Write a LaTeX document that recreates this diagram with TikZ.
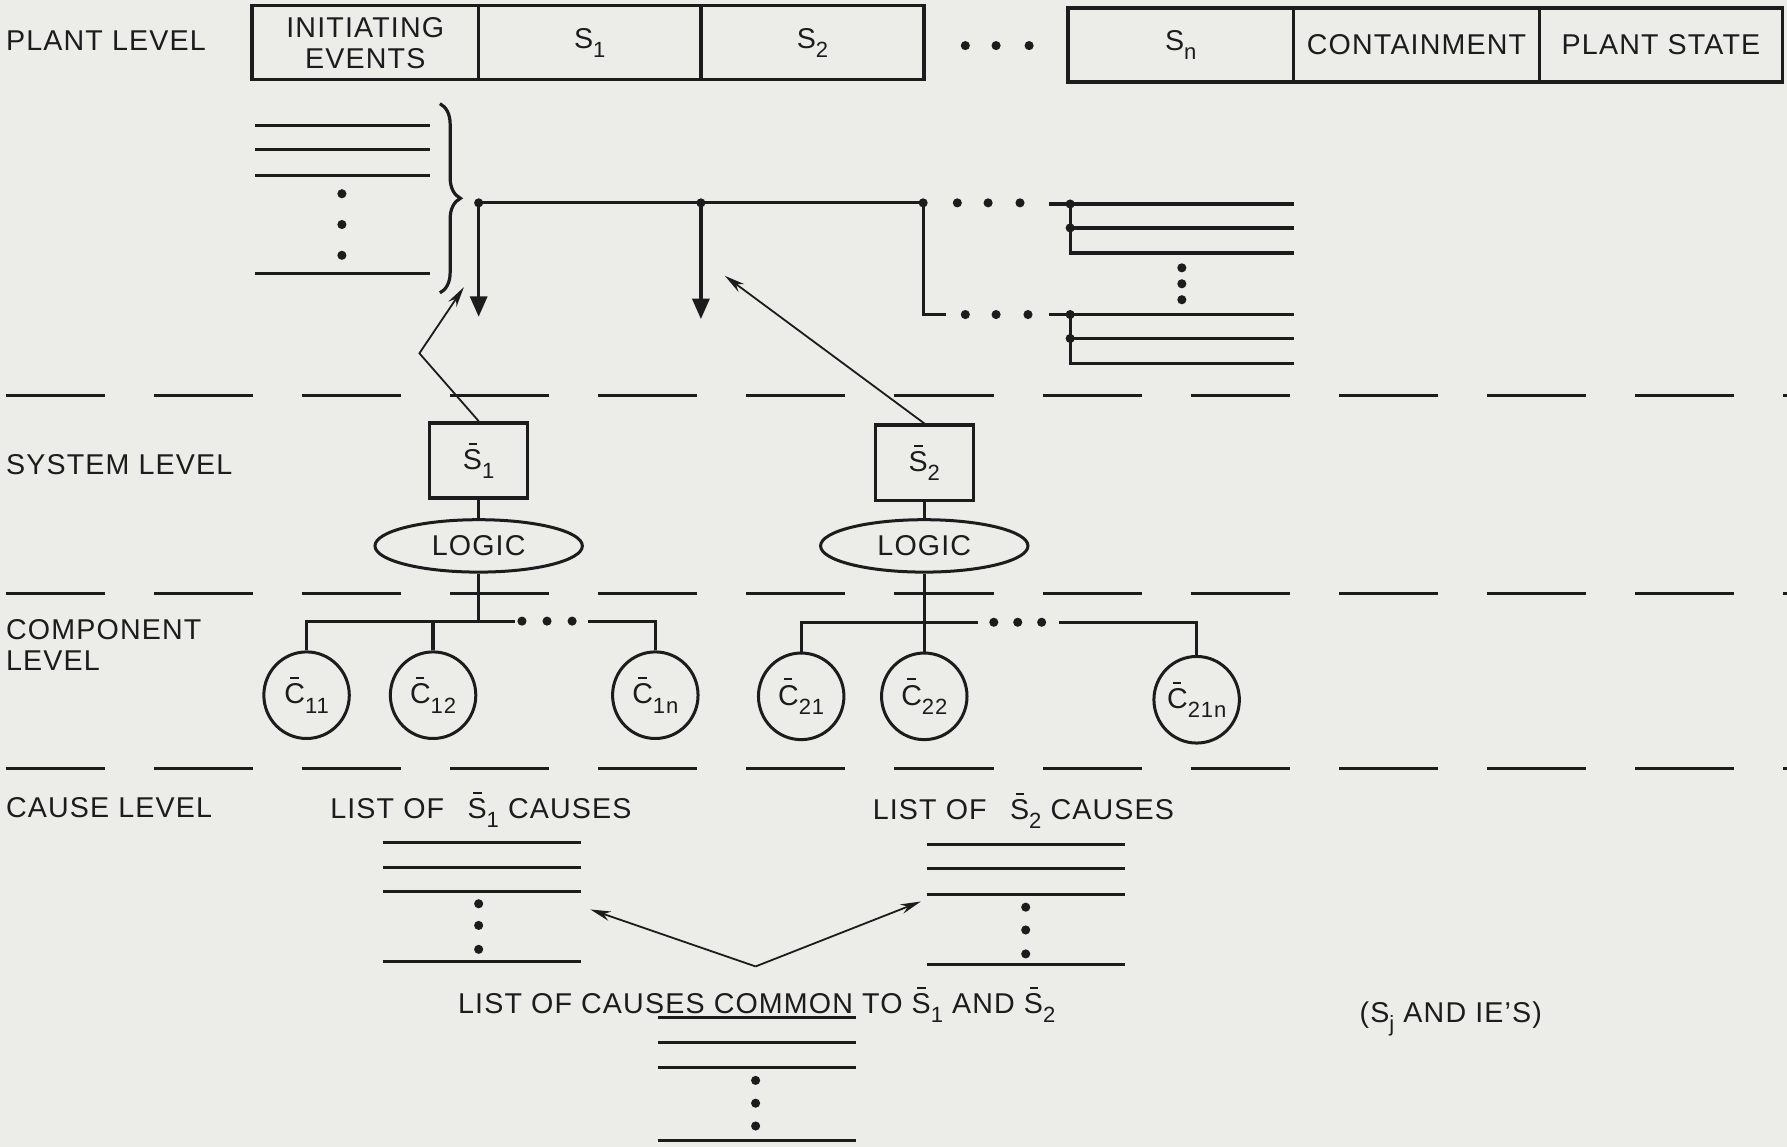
\documentclass[tikz,border=0pt]{standalone}
\usepackage{fontspec}
\setmainfont{Liberation Sans}[LetterSpace=4]
\usetikzlibrary{arrows.meta, decorations.pathreplacing, positioning, shapes.geometric}

\definecolor{paper}{RGB}{236,236,233}
\definecolor{ink}{RGB}{28,28,28}

% lowered index and short bar over a letter
\newcommand{\lowidx}[1]{\raisebox{-0.32em}{\fontsize{11}{11}\selectfont #1}}
\newcommand{\topbar}[1]{\leavevmode\rlap{\hspace{0.2em}\rule[0.86em]{0.3em}{0.07em}}#1}
\newcommand{\barS}[1]{\topbar{S}\lowidx{#1}}
\newcommand{\barC}[1]{\topbar{C}\lowidx{#1}}

\begin{document}
\begin{tikzpicture}[
    x=0.02cm, y=-0.02cm, % one unit = one pixel of the sheet
    every node/.style={font=\fontsize{14.3}{15.5}\selectfont, text=ink},
    cell/.style={draw=ink, line width=1.7pt, minimum height=1.3cm, inner sep=0pt, outer sep=0pt, align=center},
    sys_box/.style={draw=ink, line width=1.7pt, minimum width=1.72cm, minimum height=1.32cm, inner sep=0pt},
    logic_oval/.style={ellipse, draw=ink, line width=1.5pt, minimum width=3.64cm, minimum height=0.92cm, inner sep=0pt},
    comp_oval/.style={ellipse, draw=ink, line width=1.5pt, minimum width=1.5cm, minimum height=1.52cm, inner sep=0pt},
    level_label/.style={anchor=west, align=left, inner sep=0pt},
    tree_line/.style={ink, line width=1.6pt},
    list_line/.style={ink, line width=1.4pt},
    sep_line/.style={ink, line width=1.4pt, dash pattern=on 1.74cm off 0.86cm},
    drop_arrow/.style={ink, line width=1.6pt, -{Triangle[length=0.36cm, width=0.3cm]}},
    thin_arrow/.style={ink, line width=0.9pt, -{Stealth[length=0.36cm, width=0.17cm]}}
]

% Define dot radius
\def\dotr{0.08cm}

% Sheet
\fill[paper] (0,0) rectangle (1568,1006);
\useasboundingbox (0,0) rectangle (1568,1006);

% Plant level row
\node[level_label] (plantlab) at (5,36) {PLANT LEVEL};
\node[cell, minimum width=3.98cm] (ie) at (320.5,37.5) {INITIATING\\EVENTS};
\node[cell, minimum width=3.9cm, right=0pt of ie] (s1) {S\lowidx{1}};
\node[cell, minimum width=3.92cm, right=0pt of s1] (s2) {S\lowidx{2}};
\node[cell, minimum width=3.96cm] (sn) at (1036,39.5) {S\lowidx{n}};
\node[cell, minimum width=4.32cm, right=0pt of sn] (cont) {CONTAINMENT};
\node[cell, minimum width=4.26cm, right=0pt of cont] (pstate) {PLANT STATE};
\foreach \x in {847,874,903} \fill[ink] (\x,40) circle (\dotr);

% Initiating event list and brace
\foreach \y in {110,131,154,240} \draw[list_line] (224,\y) -- (377,\y);
\foreach \y in {170,197,224} \fill[ink] (300,\y) circle (\dotr);
\draw[tree_line, decorate, decoration={brace, amplitude=0.36cm}] (386,91) -- (386,257);

% Event tree
\coordinate (t1) at (420,178);
\coordinate (t2) at (615,178);
\coordinate (t3) at (810,178);
\coordinate (t4) at (810,276);
\draw[tree_line] (t1) -- (t2) -- (t3) -- (t4) -- ++(20,0);
\draw[drop_arrow] (t1) -- ++(0,100);
\draw[drop_arrow] (t2) -- ++(0,102);
\foreach \p in {t1,t2,t3} \fill[ink] (\p) circle (\dotr);
\foreach \x in {840,867,895} \fill[ink] (\x,178) circle (\dotr);
\foreach \x in {847,874,902} \fill[ink] (\x,276) circle (\dotr);
\foreach \y in {179,276} {
    \draw[tree_line] (920,\y) -- (1135,\y);
    \draw[tree_line] (939,\y+21) -- (1135,\y+21);
    \draw[tree_line] (939,\y) |- (1135,\y+43);
    \fill[ink] (939,\y) circle (\dotr) (939,\y+21) circle (\dotr);
}
\foreach \y in {235,249,263} \fill[ink] (1037,\y) circle (\dotr);

% Level separators
\foreach \y in {347,521,674} \draw[sep_line] (5,\y) -- (1568,\y);

% System level
\node[level_label] (syslab) at (5,408) {SYSTEM LEVEL};
\node[sys_box] (sys1) at (420,404) {\barS{1}};
\node[sys_box] (sys2) at (811,406) {\barS{2}};
\node[logic_oval] (logic1) at (420,479) {LOGIC};
\node[logic_oval] (logic2) at (811,479) {LOGIC};
\draw[tree_line] (sys1) -- (logic1);
\draw[tree_line] (sys2) -- (logic2);
\coordinate (k1) at (368,310);
\coordinate (a1) at (407,252);
\coordinate (a2) at (636,242);
\draw[thin_arrow] (sys1.north) -- (k1) -- (a1);
\draw[thin_arrow] (sys2.north) -- (a2);

% Component level
\node[level_label] (complab) at (5,566) {COMPONENT\\LEVEL};
\node[comp_oval] (c11) at (269,610) {\barC{11}};
\node[comp_oval] (c12) at (380,610) {\barC{12}};
\node[comp_oval] (c1n) at (575,610) {\barC{1n}};
\node[comp_oval] (c21) at (703,611) {\barC{21}};
\node[comp_oval] (c22) at (811,611) {\barC{22}};
\node[comp_oval] (c21n) at (1050,614) {\barC{21n}};
\coordinate (j1) at (420,545);
\coordinate (j2) at (811,546);
\coordinate (e1) at (516,545);
\coordinate (e2) at (929,546);
\draw[tree_line] (logic1) -- (j1);
\draw[tree_line] (c11) |- (j1) -- ++(32,0);
\draw[tree_line] (c12) -- (c12 |- j1);
\draw[tree_line] (c1n) |- (e1);
\draw[tree_line] (logic2) -- (c22);
\draw[tree_line] (c21) |- (j2) -- ++(47,0);
\draw[tree_line] (c21n) |- (e2);
\foreach \x in {458,480,502} \fill[ink] (\x,545) circle (\dotr);
\foreach \x in {872,893,914} \fill[ink] (\x,546) circle (\dotr);

% Cause level
\node[level_label] (causelab) at (5,709) {CAUSE LEVEL};
\node[anchor=base] (list1) at (422,718) {LIST OF\hspace{0.5em} \barS{1} CAUSES};
\node[anchor=base] (list2) at (898,719) {LIST OF\hspace{0.5em} \barS{2} CAUSES};
\foreach \y in {739,761,782,844} \draw[list_line] (336,\y) -- (510,\y);
\foreach \y in {793,812,833} \fill[ink] (420,\y) circle (\dotr);
\foreach \y in {741,762,785,846} \draw[list_line] (813,\y) -- (987,\y);
\foreach \y in {796,816,837} \fill[ink] (900,\y) circle (\dotr);
\coordinate (v0) at (663,848);
\coordinate (v1) at (518,798);
\coordinate (v2) at (808,791);
\draw[thin_arrow] (v0) -- (v1);
\draw[thin_arrow] (v0) -- (v2);

% Common causes
\node[anchor=base] (common) at (664,889) {LIST OF CAUSES COMMON TO \barS{1} AND \barS{2}};
\foreach \y in {893,915,937,1001} \draw[list_line] (577,\y) -- (751,\y);
\foreach \y in {948,968,988} \fill[ink] (663,\y) circle (\dotr);
\node[anchor=base] (sjnote) at (1273,897) {(S\lowidx{j} AND IE'S)};

\end{tikzpicture}
\end{document}
